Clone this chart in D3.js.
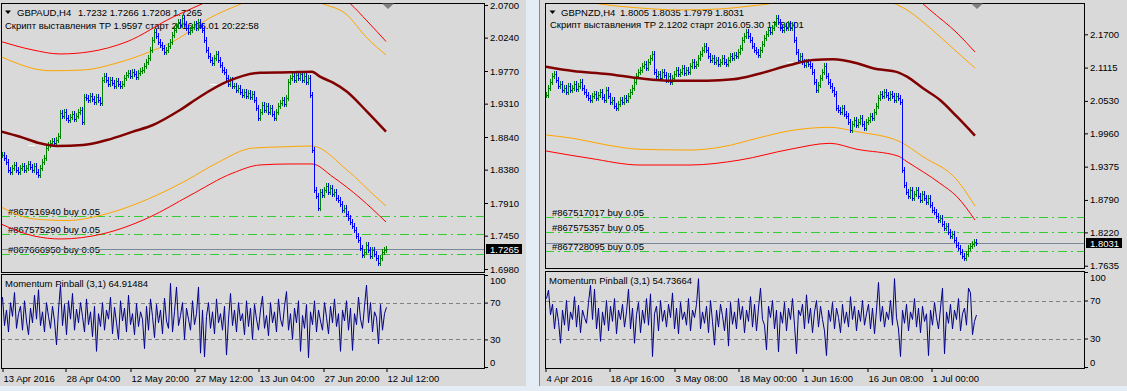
<!DOCTYPE html>
<html><head><meta charset="utf-8">
<script src="https://cdn.jsdelivr.net/npm/d3@7"></script>
<style>
html,body{margin:0;padding:0;background:#e4ecf5;}
svg{display:block;}
text{font-family:"Liberation Sans",Arial,sans-serif;font-size:9.5px;fill:#000;}
</style></head><body>
<svg id="c" width="1127" height="391"></svg>
<script>
// ---------- GBPAUD,H4 (left) ----------
const audCloses = [
1.8586,1.8544,1.8488,1.8375,1.8347,1.8403,1.8446,1.8375,1.8347,1.8403,
1.8431,1.8375,1.8403,1.8460,1.8417,1.8375,1.8431,1.8347,1.8305,1.8403,
1.8488,1.8544,1.8685,1.8727,1.8756,1.8784,1.8756,1.8798,1.8854,1.9178,
1.9136,1.9192,1.9108,1.9080,1.9122,1.9164,1.9094,1.9136,1.9192,1.9220,
1.9051,1.9404,1.9390,1.9361,1.9418,1.9375,1.9333,1.9404,1.9361,1.9319,
1.9643,1.9700,1.9643,1.9587,1.9643,1.9601,1.9559,1.9629,1.9587,1.9559,
1.9587,1.9671,1.9714,1.9742,1.9700,1.9756,1.9728,1.9685,1.9742,1.9770,
1.9784,1.9841,1.9897,1.9953,2.0066,2.0207,2.0320,2.0263,2.0179,2.0136,
2.0094,2.0038,2.0066,2.0122,2.0179,2.0277,2.0348,2.0404,2.0460,2.0418,
2.0517,2.0432,2.0376,2.0320,2.0348,2.0390,2.0432,2.0376,2.0460,2.0404,
2.0348,2.0207,2.0066,1.9981,1.9925,1.9883,1.9953,2.0010,1.9925,1.9855,
1.9784,1.9756,1.9671,1.9587,1.9643,1.9559,1.9559,1.9502,1.9530,1.9474,
1.9432,1.9474,1.9418,1.9460,1.9404,1.9446,1.9361,1.9249,1.9108,1.9192,
1.9291,1.9220,1.9277,1.9192,1.9249,1.9164,1.9108,1.9192,1.9277,1.9319,
1.9361,1.9305,1.9390,1.9615,1.9671,1.9700,1.9643,1.9714,1.9671,1.9728,
1.9643,1.9700,1.9615,1.9671,1.9432,1.8657,1.8093,1.8009,1.7840,1.8065,
1.8023,1.8093,1.8150,1.8065,1.8122,1.8037,1.8065,1.7981,1.7952,1.7896,
1.7811,1.7840,1.7755,1.7699,1.7643,1.7586,1.7530,1.7445,1.7389,1.7276,
1.7177,1.7220,1.7318,1.7248,1.7163,1.7248,1.7192,1.7135,1.7064,1.7135,
1.7220,1.7248,1.7265];
const audMomentum = [
76,45,62,38,70,55,81,42,58,66,
40,72,50,35,64,48,78,52,84,45,
60,38,70,55,42,66,50,24,62,89,
45,68,35,72,52,80,40,63,48,70,
55,38,74,46,60,33,66,17,58,44,
70,40,62,52,76,36,65,48,30,72,
50,64,38,78,46,58,35,69,44,60,
52,20,66,40,74,55,32,68,48,62,
36,75,50,42,91,38,60,87,45,56,
70,30,64,52,40,72,46,58,87,15,
62,11,55,70,42,60,36,74,48,58,
40,66,13,52,80,45,62,38,70,50,
58,35,72,44,64,30,68,52,40,62,
77,42,56,34,70,48,60,38,74,52,
44,66,82,40,58,30,64,48,72,17,
56,42,68,10,60,46,72,38,62,50,
40,70,54,36,66,48,74,44,58,17,
62,50,72,40,64,18,58,46,76,52,
42,66,89,48,70,38,60,54,25,68,
40,58,64.91];
const audMA = [[0,1.8918],[19,1.8844],[39,1.8751],[56,1.8713],[82,1.8727],[106,1.8798],[132,1.8915],[152,1.9009],[179,1.9220],[199,1.9408],[226,1.9619],[259,1.9746],[289,1.9752],[311,1.9760],[319,1.9690],[332,1.9605],[346,1.9478],[366,1.9197],[385,1.8915]];
const audUpperOrange = [[0,1.9972],[49,1.9774],[82,1.9784],[116,1.9883],[149,2.0042],[172,2.0183],[207,2.0503],[241,2.0721],[264,2.0841],[299,2.0841],[321,2.0721],[345,2.0573],[366,2.0235],[385,1.9996]];
const audLowerOrange = [[0,1.7854],[33,1.7685],[67,1.7663],[101,1.7741],[154,1.8009],[186,1.8234],[216,1.8474],[252,1.8685],[286,1.8703],[311,1.8713],[346,1.8375],[376,1.7981],[385,1.7868]];
const audUpperRed = [[0,2.0186],[32,2.0066],[59,2.0010],[89,2.0042],[126,2.0183],[172,2.0531],[203,2.0728],[239,2.0982],[319,2.0982],[349,2.0721],[366,2.0475],[385,2.0186]];
const audLowerRed = [[0,1.7614],[33,1.7445],[60,1.7403],[101,1.7473],[149,1.7713],[188,1.8009],[232,1.8333],[259,1.8446],[289,1.8460],[311,1.8460],[332,1.8276],[359,1.7981],[385,1.7642]];
const audPriceTicks = [2.0700,2.0240,1.9770,1.9310,1.8840,1.8380,1.7910,1.7450,1.6980];
const audDateLabels = ["13 Apr 2016","28 Apr 04:00","12 May 20:00","27 May 12:00","13 Jun 04:00","27 Jun 20:00","12 Jul 12:00"];
const audDateBars = [1,64,129,193,257,322,385];
const audOrders = [["#867516940 buy 0.05",1.7725],["#867575290 buy 0.05",1.7468],["#867666950 buy 0.05",1.7198]];
const audMarks = [[27,34,1.8727],[209,216,1.9587]];
const audHeader = ["GBPAUD,H4","1.7232 1.7266 1.7208 1.7265","Скрипт выставления TP 1.9597 старт 2016.06.01 20:22:58","Momentum Pinball (3,1) 64.91484"];
const audBid = 1.7265;

// ---------- GBPNZD,H4 (right) ----------
const nzdCloses = [
2.0634,2.0757,2.0862,2.0967,2.1003,2.0897,2.0792,2.0827,2.0721,2.0757,
2.0686,2.0792,2.0721,2.0757,2.0827,2.0739,2.0792,2.0862,2.0757,2.0686,
2.0634,2.0581,2.0546,2.0616,2.0651,2.0581,2.0634,2.0686,2.0598,2.0546,
2.0721,2.0616,2.0511,2.0546,2.0440,2.0405,2.0475,2.0546,2.0511,2.0581,
2.0546,2.0616,2.0686,2.0757,2.0862,2.0967,2.1038,2.1073,2.1143,2.1178,
2.1108,2.1213,2.1284,2.1354,2.1038,2.0967,2.1003,2.0932,2.1038,2.0985,
2.0897,2.0967,2.0862,2.0932,2.1003,2.1073,2.1003,2.1038,2.1108,2.1020,
2.1073,2.1038,2.1143,2.1213,2.1143,2.1178,2.1284,2.1354,2.1424,2.1494,
2.1424,2.1319,2.1248,2.1284,2.1213,2.1248,2.1178,2.1213,2.1284,2.1213,
2.1178,2.1248,2.1319,2.1284,2.1336,2.1319,2.1389,2.1459,2.1600,2.1670,
2.1740,2.1670,2.1600,2.1494,2.1424,2.1389,2.1336,2.1424,2.1530,2.1635,
2.1705,2.1776,2.1740,2.1811,2.1881,2.1986,2.1916,2.1811,2.1776,2.1846,
2.1811,2.1881,2.1811,2.1863,2.1600,2.1389,2.1248,2.1319,2.1213,2.1161,
2.1213,2.1178,2.1143,2.1038,2.0862,2.0721,2.0809,2.0932,2.1038,2.1143,
2.0967,2.0862,2.0792,2.0721,2.0651,2.0405,2.0370,2.0335,2.0405,2.0300,
2.0264,2.0159,2.0018,2.0124,2.0194,2.0106,2.0159,2.0229,2.0124,2.0053,
2.0159,2.0194,2.0264,2.0229,2.0335,2.0440,2.0581,2.0651,2.0616,2.0686,
2.0634,2.0581,2.0651,2.0616,2.0546,2.0616,2.0581,2.0511,1.9316,1.9052,
1.8929,1.8859,1.8965,1.8824,1.8894,1.8965,1.8859,1.8789,1.8894,1.8824,
1.8754,1.8824,1.8701,1.8613,1.8578,1.8508,1.8437,1.8472,1.8367,1.8297,
1.8332,1.8226,1.8156,1.8191,1.8086,1.7998,1.7945,1.7875,1.7804,1.7769,
1.7840,1.7945,1.7980,1.8015,1.8051,1.8031];
const nzdMomentum = [
72,81,55,66,40,62,48,25,60,44,
70,38,58,50,74,42,65,36,60,52,
46,68,86,50,82,40,62,27,58,44,
70,38,64,48,72,35,60,50,66,42,
58,82,40,62,25,55,68,36,60,46,
72,44,77,11,56,64,38,70,48,60,
42,66,52,78,40,62,35,68,50,58,
44,72,38,60,52,66,93,40,58,46,
64,36,70,48,23,60,42,66,54,38,
62,22,68,45,58,40,72,50,64,36,
60,48,74,42,66,38,62,83,50,44,
18,64,52,70,40,60,16,58,46,68,
38,62,50,72,44,14,60,54,66,40,
76,46,62,36,58,70,42,64,50,38,
12,60,48,68,40,62,52,36,66,46,
58,42,74,50,64,38,60,48,70,44,
56,66,40,62,35,60,89,48,64,42,
58,50,70,44,93,52,40,11,60,46,
66,38,58,50,72,42,62,36,64,48,
56,12,60,44,68,52,40,62,83,14,
58,46,66,40,60,50,72,38,56,62,
44,83,78,34,48,54.74];
const nzdMA = [[1,2.1131],[28,2.1055],[62,2.1003],[95,2.0927],[128,2.0885],[162,2.0885],[188,2.0909],[212,2.0997],[245,2.1161],[268,2.1248],[288,2.1261],[312,2.1191],[328,2.1103],[353,2.1032],[362,2.0955],[378,2.0751],[395,2.0546],[412,2.0252],[430,1.9919]];
const nzdUpperOrange = [[1,2.2338],[30,2.2303],[55,2.2232],[95,2.2162],[135,2.2127],[175,2.2145],[205,2.2197],[230,2.2250],[255,2.2355],[285,2.2443],[315,2.2391],[348,2.2250],[362,2.2127],[378,2.1916],[395,2.1658],[412,2.1389],[430,2.1108]];
const nzdLowerOrange = [[1,1.9931],[28,1.9873],[62,1.9755],[95,1.9680],[145,1.9667],[178,1.9725],[212,1.9873],[245,2.0006],[285,2.0066],[312,1.9989],[355,1.9813],[378,1.9550],[412,1.9140],[430,1.8683]];
const nzdUpperRed = [[355,2.2514],[377,2.2250],[385,2.2127],[412,2.1723],[430,2.1389]];
const nzdLowerRed = [[1,1.9650],[45,1.9521],[95,1.9404],[145,1.9404],[195,1.9492],[245,1.9680],[285,1.9785],[312,1.9680],[353,1.9562],[362,1.9462],[395,1.9082],[412,1.8847],[430,1.8437]];
const nzdPriceTicks = [2.1700,2.1115,2.0530,1.9960,1.9375,1.8790,1.8220,1.7635];
const nzdDateLabels = ["4 Apr 2016","18 Apr 16:00","3 May 08:00","18 May 00:00","1 Jun 16:00","16 Jun 08:00","1 Jul 00:00"];
const nzdDateBars = [0,64,129,193,257,322,386];
const nzdOrders = [["#867517017 buy 0.05",1.8496],["#867575357 buy 0.05",1.8221],["#867728095 buy 0.05",1.7893]];
const nzdMarks = [[242,248,2.1208]];
const nzdHeader = ["GBPNZD,H4","1.8005 1.8035 1.7979 1.8031","Скрипт выставления TP 2.1202 старт 2016.05.30 17:50:01","Momentum Pinball (3,1) 54.73664"];
const nzdBid = 1.8031;

const indLevels = [70,30];
const indTicks = [100,70,30,0];

// ---------- drawing ----------
const BG = '#d9d9d9';
const svg = d3.select('#c');
const defs = svg.append('defs');

const panels = [
 {id:'a', frame:[0,526], main:{x0:1,x1:484,y0:3,y1:272}, ind:{y0:274,y1:368},
  yDomain:[1.6980,2.0700], yRange:[269,5], closes:audCloses, mom:audMomentum,
  ma:audMA, uo:audUpperOrange, lo:audLowerOrange, ur:audUpperRed, lr:audLowerRed,
  ticks:audPriceTicks, dLabels:audDateLabels, dBars:audDateBars, orders:audOrders, marks:audMarks,
  header:audHeader, bid:audBid, hx:{tri:5, sym:17, val:78, line2:5, ind:5, ord:8}, hy:{l1:15.5,l2:28.5,ind:287}, shift:388},
 {id:'b', frame:[539,1127], main:{x0:545,x1:1084,y0:3,y1:268}, ind:{y0:271,y1:368},
  yDomain:[1.7635,2.1700], yRange:[265.7,34.3], closes:nzdCloses, mom:nzdMomentum,
  ma:nzdMA, uo:nzdUpperOrange, lo:nzdLowerOrange, ur:nzdUpperRed, lr:nzdLowerRed,
  ticks:nzdPriceTicks, dLabels:nzdDateLabels, dBars:nzdDateBars, orders:nzdOrders, marks:nzdMarks,
  header:nzdHeader, bid:nzdBid, hx:{tri:549.5, sym:561, val:620, line2:550, ind:549, ord:552}, hy:{l1:15.5,l2:28,ind:283.5}, shift:977}
];

panels.forEach(P=>{
  const m = P.main, ind = P.ind;
  const g = svg.append('g');
  g.append('rect').attr('x',P.frame[0]).attr('y',0).attr('width',P.frame[1]-P.frame[0]).attr('height',386).attr('fill',BG);
  if (P.frame[0] > 0) g.append('line').attr('x1',P.frame[0]+0.5).attr('x2',P.frame[0]+0.5).attr('y1',0).attr('y2',386).attr('stroke','#8a8a8a');

  const x = d3.scaleLinear().domain([0, m.x1-m.x0]).range([m.x0, m.x1]);
  const y = d3.scaleLinear().domain(P.yDomain).range(P.yRange);
  const yi = d3.scaleLinear().domain([0,100]).range([ind.y1-1, ind.y0+1]);

  defs.append('clipPath').attr('id','cm'+P.id).append('rect')
    .attr('x',m.x0+1).attr('y',m.y0+1).attr('width',m.x1-m.x0-1).attr('height',m.y1-m.y0-1);
  defs.append('clipPath').attr('id','ci'+P.id).append('rect')
    .attr('x',m.x0+1).attr('y',ind.y0+1).attr('width',m.x1-m.x0-1).attr('height',ind.y1-ind.y0-1);

  g.append('rect').attr('x',m.x0+0.5).attr('y',m.y0+0.5).attr('width',m.x1-m.x0).attr('height',m.y1-m.y0)
    .attr('fill',BG).attr('stroke','#000').attr('shape-rendering','crispEdges');
  g.append('rect').attr('x',m.x0+0.5).attr('y',ind.y0+0.5).attr('width',m.x1-m.x0).attr('height',ind.y1-ind.y0)
    .attr('fill',BG).attr('stroke','#000').attr('shape-rendering','crispEdges');

  const gm = g.append('g').attr('clip-path','url(#cm'+P.id+')');

  gm.append('path').attr('d',`M${P.hx.tri},10.5 h6 l-3,3.5 z`).attr('fill','#000');
  gm.append('text').attr('x',P.hx.sym).attr('y',P.hy.l1).text(P.header[0]);
  gm.append('text').attr('x',P.hx.val).attr('y',P.hy.l1).text(P.header[1]);
  gm.append('text').attr('x',P.hx.line2).attr('y',P.hy.l2).text(P.header[2]);

  P.orders.forEach(o=>{
    const yy = Math.round(y(o[1]))+0.5;
    gm.append('line').attr('x1',m.x0).attr('x2',m.x1).attr('y1',yy).attr('y2',yy)
      .attr('stroke','#32cd32').attr('stroke-dasharray','9,4,2,4').attr('shape-rendering','crispEdges');
    gm.append('text').attr('x',P.hx.ord).attr('y',yy-2).text(o[0]);
  });
  const by = Math.round(y(P.bid))+0.5;
  gm.append('line').attr('x1',m.x0).attr('x2',m.x1).attr('y1',by).attr('y2',by)
    .attr('stroke','#778899').attr('shape-rendering','crispEdges');

  const line = d3.line().x(d=>x(d[0])).y(d=>y(d[1])).curve(d3.curveMonotoneX);
  [[P.uo,'#ffa500',1],[P.lo,'#ffa500',1],[P.ur,'#ff0000',1],[P.lr,'#ff0000',1]].forEach(s=>{
    gm.append('path').attr('d',line(s[0])).attr('fill','none').attr('stroke',s[1]).attr('stroke-width',s[2]);
  });

  const bars = P.closes.map((c,i)=>({b:1+2*i, o:i?P.closes[i-1]:c, c}));
  const gb = gm.append('g').attr('shape-rendering','crispEdges');
  gb.selectAll('line.v').data(bars).join('line').attr('class','v')
    .attr('x1',d=>x(d.b)+0.5).attr('x2',d=>x(d.b)+0.5)
    .attr('y1',d=>Math.round(y(Math.max(d.o,d.c)))-3)
    .attr('y2',d=>Math.round(y(Math.min(d.o,d.c)))+3)
    .attr('stroke',d=>d.c>=d.o?'#008000':'#0000ff');
  gb.selectAll('line.t').data(bars).join('line').attr('class','t')
    .attr('x1',d=>x(d.b)+1).attr('x2',d=>x(d.b)+2)
    .attr('y1',d=>Math.round(y(d.c))+0.5).attr('y2',d=>Math.round(y(d.c))+0.5)
    .attr('stroke',d=>d.c>=d.o?'#008000':'#0000ff');

  gm.append('path').attr('d',line(P.ma)).attr('fill','none').attr('stroke','#800000').attr('stroke-width',2.5);

  P.marks.forEach(k=>{
    const yy = Math.round(y(k[2]))+0.5;
    gm.append('line').attr('x1',x(k[0])).attr('x2',x(k[1])).attr('y1',yy).attr('y2',yy)
      .attr('stroke','#fff').attr('shape-rendering','crispEdges');
  });

  g.append('path').attr('d',`M${P.shift-6},3.5 h12 l-6,5.5 z`).attr('fill','#808080');

  const ax = g.append('g').attr('transform',`translate(${m.x1+1},0)`)
    .call(d3.axisRight(y).tickValues(P.ticks).tickFormat(d3.format('.4f')).tickSize(3).tickPadding(2));
  ax.select('.domain').remove();
  ax.selectAll('line').attr('stroke','#000');

  const bb = Math.round(y(P.bid));
  g.append('rect').attr('x',m.x1+2).attr('y',bb-5).attr('width',36).attr('height',10).attr('fill','#000');
  g.append('text').attr('x',m.x1+6).attr('y',bb+3.5).style('fill','#fff').text(d3.format('.4f')(P.bid));

  const gi = g.append('g').attr('clip-path','url(#ci'+P.id+')');
  indLevels.forEach(v=>{
    const yy = Math.round(yi(v))+0.5;
    gi.append('line').attr('x1',m.x0).attr('x2',m.x1).attr('y1',yy).attr('y2',yy)
      .attr('stroke','#808080').attr('stroke-dasharray','4,3').attr('shape-rendering','crispEdges');
  });
  const mline = d3.line().x((d,i)=>x(1+2*i)+0.5).y(d=>yi(d));
  gi.append('path').attr('d',mline(P.mom)).attr('fill','none').attr('stroke','#00008b').attr('stroke-width',1);
  gi.append('text').attr('x',P.hx.ind).attr('y',P.hy.ind).text(P.header[3]);

  const ia = g.append('g').attr('transform',`translate(${m.x1+1},0)`)
    .call(d3.axisRight(yi).tickValues(indTicks).tickFormat(d3.format('d')).tickSize(3).tickPadding(2));
  ia.select('.domain').remove();
  ia.selectAll('line').attr('stroke','#000');
  ia.selectAll('text').attr('dy',d=>d===100?'0.9em':(d===0?'-0.2em':'0.32em'));

  const da = g.append('g').attr('transform',`translate(0,${ind.y1+1})`)
    .call(d3.axisBottom(x).tickValues(P.dBars).tickFormat((d,i)=>P.dLabels[i]).tickSize(3).tickPadding(3));
  da.select('.domain').remove();
  da.selectAll('line').attr('stroke','#000').attr('transform','translate(0.5,0)');
  da.selectAll('text').attr('text-anchor','start').attr('x',1);
});
</script>
</body></html>
